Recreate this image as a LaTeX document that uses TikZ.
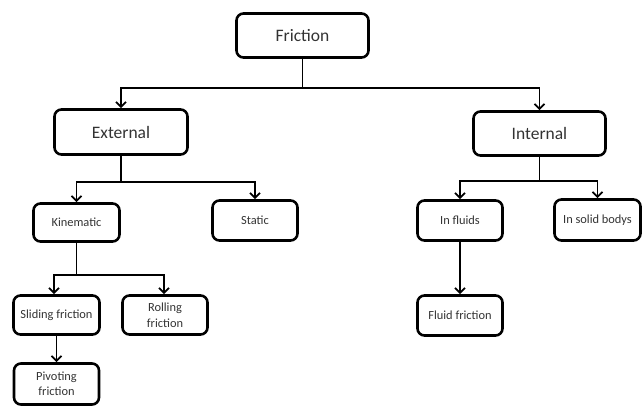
\documentclass[tikz,border=0pt]{standalone}
\usepackage{fontspec}
\setmainfont{Carlito}
\usetikzlibrary{arrows.meta}
\definecolor{txt}{HTML}{333333}
\tikzset{
  boxbase/.style={draw=black, rounded corners=7pt, line width=2.6pt, inner sep=0pt, align=center, text=txt, anchor=center},
  bigbox/.style={boxbase, minimum width=132pt, minimum height=44pt, font=\fontsize{17.5}{20}\selectfont},
  smallbox/.style={boxbase, minimum width=85pt, minimum height=40pt, font=\fontsize{12.4}{15.5}\selectfont},
  conn/.style={line width=1.8pt},
  arr/.style={line width=1.8pt, -{Straight Barb[length=5pt,width=10pt,line width=1.8pt]}}
}
\begin{document}
\begin{tikzpicture}[x=1pt,y=-1pt]
\useasboundingbox (0,0) rectangle (643,405);
\node[bigbox] (fr) at (302.5,35.5) {Friction};
\node[bigbox, minimum width=133pt, minimum height=45pt] (ext) at (121,132) {External};
\node[bigbox] (int) at (539.5,133.5) {Internal};
\node[smallbox, minimum width=86pt, minimum height=38pt] (kin) at (76.5,222.5) {Kinematic};
\node[smallbox] (sta) at (255,220.5) {Static};
\node[smallbox] (flu) at (460,220.5) {In fluids};
\node[smallbox, minimum width=86pt, minimum height=41pt] (sol) at (597.5,220) {In solid bodys};
\node[smallbox, minimum width=86pt, minimum height=39pt] (sli) at (56.5,315) {Sliding friction};
\node[smallbox, minimum height=39pt] (rol) at (165,315) {Rolling\\friction};
\node[smallbox, minimum height=41pt] (piv) at (56.5,384) {Pivoting\\friction};
\node[smallbox] (ffr) at (460,315.5) {Fluid friction};
\coordinate (j1) at (302.5,88);
\coordinate (j2) at (121,182);
\coordinate (j3) at (539.5,181);
\coordinate (j4) at (76.5,275);
\draw[conn] (fr.south) -- (j1);
\draw[arr] (j1) -| (ext.north);
\draw[arr] (j1) -| (int.north);
\draw[conn] (ext.south) -- (j2);
\draw[arr] (j2) -| (kin.north);
\draw[arr] (j2) -| (sta.north);
\draw[conn] (int.south) -- (j3);
\draw[arr] (j3) -| (flu.north);
\draw[arr] (j3) -| (sol.north);
\draw[conn] (kin.south) -- (j4);
\draw[arr] (j4) -| ([xshift=-2.5pt]sli.north);
\draw[arr] (j4) -| ([xshift=-1pt]rol.north);
\draw[arr] (sli.south) -- (piv.north);
\draw[arr] (flu.south) -- (ffr.north);
\end{tikzpicture}
\end{document}
